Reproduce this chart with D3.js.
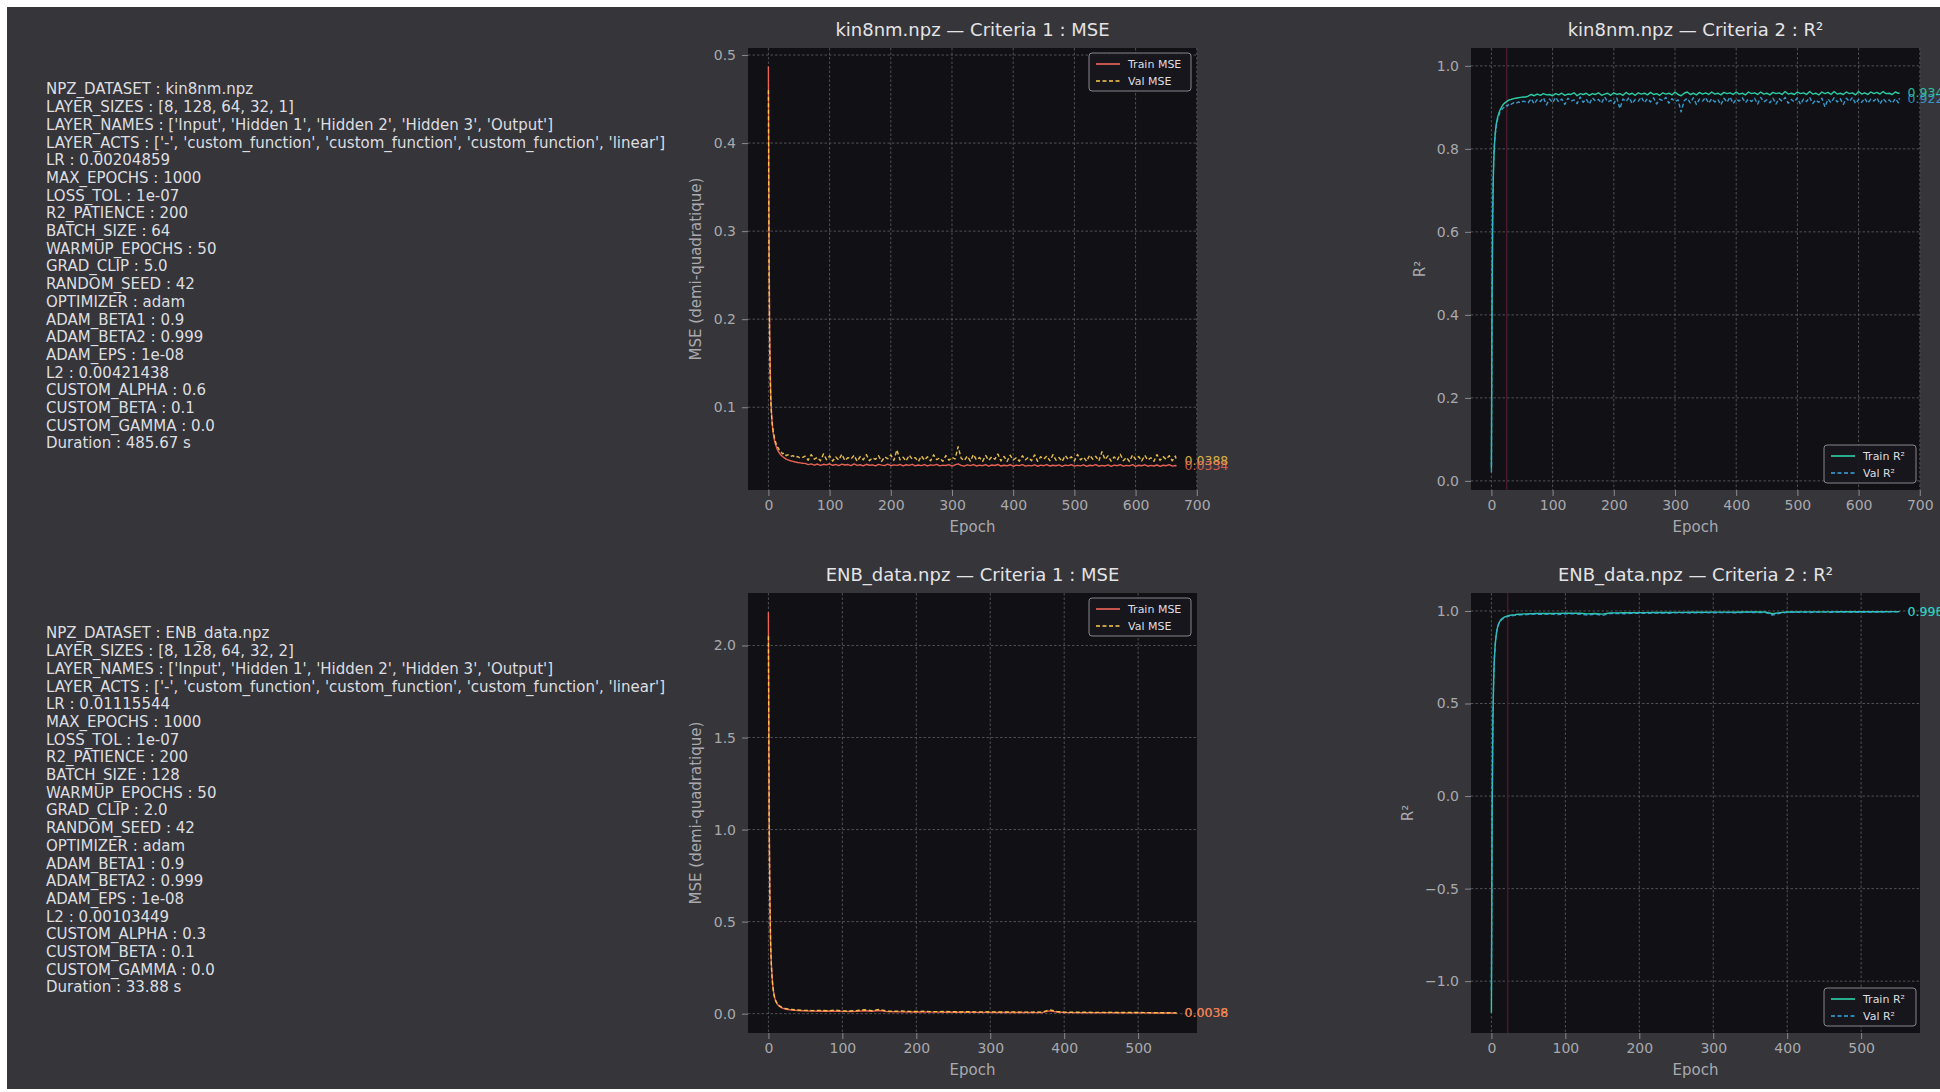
<!DOCTYPE html>
<html>
<head>
<meta charset="utf-8">
<script src="https://cdn.jsdelivr.net/npm/d3@7"></script>
<style>
  html, body { margin: 0; padding: 0; background: #ffffff; overflow: hidden; }
  text { font-family: 'DejaVu Sans', 'Noto Sans', sans-serif; }
</style>
</head>
<body>
<svg id="fig" width="1940" height="1092"></svg>
<script>
// ---------------------------------------------------------------------------
// Run configurations printed beside each training history
// ---------------------------------------------------------------------------
const kinConfig = [
  "NPZ_DATASET : kin8nm.npz",
  "LAYER_SIZES : [8, 128, 64, 32, 1]",
  "LAYER_NAMES : ['Input', 'Hidden 1', 'Hidden 2', 'Hidden 3', 'Output']",
  "LAYER_ACTS : ['-', 'custom_function', 'custom_function', 'custom_function', 'linear']",
  "LR : 0.00204859",
  "MAX_EPOCHS : 1000",
  "LOSS_TOL : 1e-07",
  "R2_PATIENCE : 200",
  "BATCH_SIZE : 64",
  "WARMUP_EPOCHS : 50",
  "GRAD_CLIP : 5.0",
  "RANDOM_SEED : 42",
  "OPTIMIZER : adam",
  "ADAM_BETA1 : 0.9",
  "ADAM_BETA2 : 0.999",
  "ADAM_EPS : 1e-08",
  "L2 : 0.00421438",
  "CUSTOM_ALPHA : 0.6",
  "CUSTOM_BETA : 0.1",
  "CUSTOM_GAMMA : 0.0",
  "Duration : 485.67 s"
];
const enbConfig = [
  "NPZ_DATASET : ENB_data.npz",
  "LAYER_SIZES : [8, 128, 64, 32, 2]",
  "LAYER_NAMES : ['Input', 'Hidden 1', 'Hidden 2', 'Hidden 3', 'Output']",
  "LAYER_ACTS : ['-', 'custom_function', 'custom_function', 'custom_function', 'linear']",
  "LR : 0.01115544",
  "MAX_EPOCHS : 1000",
  "LOSS_TOL : 1e-07",
  "R2_PATIENCE : 200",
  "BATCH_SIZE : 128",
  "WARMUP_EPOCHS : 50",
  "GRAD_CLIP : 2.0",
  "RANDOM_SEED : 42",
  "OPTIMIZER : adam",
  "ADAM_BETA1 : 0.9",
  "ADAM_BETA2 : 0.999",
  "ADAM_EPS : 1e-08",
  "L2 : 0.00103449",
  "CUSTOM_ALPHA : 0.3",
  "CUSTOM_BETA : 0.1",
  "CUSTOM_GAMMA : 0.0",
  "Duration : 33.88 s"
];

// ---------------------------------------------------------------------------
// kin8nm history: every epoch early on, then every 5th epoch
// ---------------------------------------------------------------------------
const kinEpochs = [0,1,2,3,4,5,6,7,8,9,10,12,14,16,18,20,23,26,29,32,36,40,44,48,52,56]
  .concat(d3.range(60, 666, 5), [667]);

const kinTrainMSE = [0.487,0.300,0.190,0.140,0.112,0.095,0.084,0.076,0.070,0.066,0.062,0.057,0.053,0.050,0.048,0.046,0.044,0.0425,0.041,0.0402,0.0392,0.0385,0.0378,0.0372,0.0368,0.0364,
  0.0362,0.0348,0.0357,0.0343,0.0355,0.0339,0.0352,0.0346,0.0358,0.0341,
  0.0350,0.0337,0.0354,0.0344,0.0349,0.0336,0.0356,0.0340,0.0347,0.0335,
  0.0352,0.0341,0.0346,0.0334,0.0351,0.0343,0.0338,0.0353,0.0336,0.0345,
  0.0340,0.0350,0.0333,0.0347,0.0339,0.0352,0.0335,0.0344,0.0337,0.0349,
  0.0333,0.0346,0.0340,0.0351,0.0334,0.0343,0.0338,0.0348,0.0332,0.0345,
  0.0356,0.0339,0.0331,0.0346,0.0337,0.0349,0.0333,0.0342,0.0336,0.0347,
  0.0331,0.0344,0.0338,0.0350,0.0332,0.0341,0.0335,0.0347,0.0330,0.0343,
  0.0337,0.0348,0.0331,0.0340,0.0334,0.0346,0.0330,0.0342,0.0336,0.0349,
  0.0332,0.0341,0.0335,0.0345,0.0329,0.0343,0.0337,0.0347,0.0331,0.0340,
  0.0334,0.0346,0.0329,0.0341,0.0336,0.0348,0.0330,0.0339,0.0333,0.0345,
  0.0328,0.0342,0.0336,0.0347,0.0331,0.0340,0.0334,0.0349,0.0329,0.0341,
  0.0335,0.0346,0.0330,0.0339,0.0333,0.0344,0.0328,0.0341,0.0336,0.0347,
  0.0331,0.0338,
  0.0334];

const kinValMSE = [0.460,0.260,0.170,0.130,0.105,0.092,0.082,0.078,0.071,0.069,0.064,0.060,0.055,0.054,0.051,0.050,0.047,0.048,0.045,0.046,0.044,0.045,0.043,0.044,0.042,0.043,
  0.0445,0.0398,0.0462,0.0410,0.0431,0.0392,0.0470,0.0405,0.0448,0.0389,
  0.0436,0.0401,0.0466,0.0395,0.0428,0.0412,0.0453,0.0386,0.0440,0.0403,
  0.0461,0.0393,0.0425,0.0408,0.0449,0.0384,0.0437,0.0415,0.0458,0.0396,
  0.0515,0.0402,0.0433,0.0389,0.0456,0.0410,0.0427,0.0383,0.0447,0.0399,
  0.0438,0.0391,0.0460,0.0405,0.0424,0.0386,0.0451,0.0398,0.0432,0.0412,
  0.0552,0.0420,0.0394,0.0445,0.0388,0.0463,0.0401,0.0429,0.0385,0.0452,
  0.0397,0.0436,0.0409,0.0468,0.0390,0.0441,0.0384,0.0455,0.0400,0.0426,
  0.0387,0.0449,0.0403,0.0431,0.0392,0.0459,0.0385,0.0438,0.0411,0.0446,
  0.0393,0.0461,0.0398,0.0428,0.0383,0.0452,0.0406,0.0437,0.0389,0.0464,
  0.0402,0.0433,0.0386,0.0457,0.0410,0.0442,0.0391,0.0495,0.0404,0.0448,
  0.0388,0.0436,0.0399,0.0466,0.0393,0.0430,0.0384,0.0458,0.0407,0.0441,
  0.0390,0.0453,0.0401,0.0427,0.0386,0.0462,0.0396,0.0439,0.0408,0.0450,
  0.0392,0.0446,
  0.0388];

const kinTrainR2 = [0.030,0.400,0.620,0.720,0.775,0.810,0.832,0.848,0.860,0.868,0.875,0.885,0.893,0.899,0.904,0.908,0.912,0.915,0.918,0.919,0.921,0.922,0.923,0.924,0.925,0.925,
  0.927,0.931,0.928,0.932,0.929,0.933,0.930,0.931,0.928,0.933,
  0.930,0.934,0.929,0.932,0.931,0.935,0.928,0.933,0.931,0.934,
  0.929,0.933,0.931,0.935,0.929,0.932,0.934,0.929,0.935,0.931,
  0.933,0.929,0.936,0.931,0.934,0.929,0.935,0.932,0.934,0.930,
  0.936,0.931,0.933,0.929,0.935,0.932,0.934,0.930,0.937,0.931,
  0.928,0.934,0.937,0.931,0.934,0.930,0.936,0.932,0.935,0.931,
  0.937,0.932,0.934,0.930,0.936,0.933,0.935,0.931,0.937,0.932,
  0.934,0.930,0.937,0.933,0.935,0.931,0.937,0.932,0.934,0.930,
  0.936,0.933,0.935,0.931,0.938,0.932,0.934,0.931,0.937,0.933,
  0.935,0.931,0.938,0.932,0.934,0.930,0.937,0.933,0.936,0.931,
  0.938,0.932,0.934,0.931,0.937,0.933,0.935,0.930,0.938,0.932,
  0.935,0.931,0.937,0.933,0.936,0.932,0.938,0.933,0.934,0.931,
  0.937,0.934,
  0.9345];

const kinValR2 = [0.020,0.450,0.650,0.740,0.790,0.815,0.835,0.842,0.857,0.861,0.871,0.879,0.889,0.891,0.897,0.899,0.905,0.903,0.909,0.907,0.911,0.909,0.913,0.911,0.915,0.913,
  0.911,0.921,0.908,0.919,0.914,0.923,0.906,0.920,0.911,0.924,
  0.913,0.920,0.907,0.922,0.915,0.918,0.909,0.925,0.912,0.920,
  0.908,0.923,0.915,0.919,0.910,0.925,0.913,0.917,0.909,0.922,
  0.897,0.920,0.914,0.924,0.909,0.919,0.915,0.925,0.911,0.921,
  0.913,0.923,0.908,0.920,0.916,0.924,0.910,0.921,0.914,0.918,
  0.889,0.916,0.922,0.911,0.923,0.907,0.920,0.915,0.924,0.910,
  0.921,0.913,0.919,0.906,0.922,0.912,0.925,0.909,0.920,0.915,
  0.923,0.911,0.920,0.914,0.922,0.908,0.924,0.913,0.918,0.911,
  0.922,0.908,0.921,0.915,0.924,0.910,0.919,0.913,0.923,0.907,
  0.920,0.914,0.924,0.909,0.918,0.912,0.922,0.901,0.920,0.911,
  0.923,0.913,0.921,0.907,0.922,0.914,0.924,0.909,0.919,0.912,
  0.922,0.910,0.920,0.915,0.923,0.908,0.921,0.913,0.918,0.910,
  0.921,0.911,
  0.922];

// ---------------------------------------------------------------------------
// ENB_data history: every epoch early on, then every 10th epoch
// ---------------------------------------------------------------------------
const enbEpochs = [0,1,2,3,4,5,6,7,8,9,10,12,14,16,18,20,23,26,29,32,36,40,44,48,52,56]
  .concat(d3.range(60, 551, 10), [552]);

const enbTrainMSE = [2.18,1.12,0.62,0.39,0.27,0.20,0.15,0.118,0.095,0.080,0.068,0.052,0.043,0.037,0.032,0.029,0.025,0.023,0.021,0.020,0.018,0.0175,0.016,0.0155,0.015,0.0145,
  0.0140,0.0135,0.0142,0.0128,0.0122,0.0118,0.0125,0.0160,0.0135,0.0172,0.0110,0.0102,0.0098,0.0094,0.0090,0.0088,0.0085,0.0082,0.0080,0.0078,
  0.0076,0.0074,0.0071,0.0069,0.0068,0.0066,0.0064,0.0070,0.0062,0.0060,0.0059,0.0058,0.0150,0.0088,0.0060,0.0055,0.0053,0.0052,0.0050,0.0049,
  0.0048,0.0046,0.0045,0.0044,0.0043,0.0042,0.0040,0.0039,0.0038,0.0037,0.0036];

const enbValMSE = [2.05,1.05,0.60,0.37,0.26,0.19,0.145,0.115,0.093,0.079,0.068,0.054,0.045,0.040,0.034,0.032,0.028,0.026,0.024,0.023,0.021,0.020,0.019,0.018,0.0175,0.017,
  0.0165,0.0180,0.0158,0.0190,0.0150,0.0145,0.0170,0.0210,0.0160,0.0230,0.0140,0.0132,0.0145,0.0125,0.0120,0.0130,0.0112,0.0108,0.0118,0.0104,
  0.0100,0.0110,0.0096,0.0094,0.0102,0.0090,0.0088,0.0098,0.0085,0.0083,0.0090,0.0081,0.0210,0.0120,0.0082,0.0076,0.0074,0.0080,0.0071,0.0069,
  0.0074,0.0066,0.0064,0.0068,0.0061,0.0058,0.0056,0.0050,0.0046,0.0043,0.0038];

const enbTrainR2 = [-1.17,-0.10,0.40,0.62,0.74,0.81,0.855,0.885,0.907,0.921,0.933,0.948,0.957,0.963,0.968,0.971,0.975,0.977,0.979,0.980,0.982,0.9825,0.984,0.9845,0.985,0.9855,
  0.986,0.9865,0.986,0.987,0.9875,0.988,0.9875,0.984,0.9865,0.983,0.989,0.9895,0.990,0.9905,0.991,0.991,0.9915,0.992,0.992,0.9925,
  0.9925,0.993,0.993,0.9932,0.9935,0.9935,0.9938,0.9932,0.994,0.9942,0.9943,0.9944,0.985,0.991,0.9942,0.9946,0.9948,0.9949,0.995,0.9951,
  0.9952,0.9954,0.9955,0.9956,0.9957,0.9958,0.996,0.9961,0.9962,0.9963,0.9964];

const enbValR2 = [-1.05,-0.02,0.42,0.63,0.745,0.81,0.855,0.884,0.906,0.920,0.931,0.945,0.954,0.959,0.965,0.968,0.971,0.973,0.975,0.976,0.978,0.979,0.980,0.981,0.982,0.982,
  0.983,0.981,0.9835,0.980,0.9845,0.985,0.982,0.978,0.983,0.976,0.986,0.9865,0.985,0.9875,0.988,0.987,0.989,0.9892,0.988,0.990,
  0.990,0.989,0.9905,0.991,0.990,0.9912,0.9915,0.990,0.992,0.9922,0.991,0.9925,0.978,0.987,0.9925,0.993,0.9932,0.992,0.9935,0.9937,
  0.993,0.994,0.9942,0.993,0.9944,0.9946,0.9942,0.995,0.9952,0.9954,0.9956];

// Epoch marked by a thin vertical rule on each R² panel
const r2MarkEpochs = [25, 22];

// Axis ticks
const kinEpochTicks = [0,100,200,300,400,500,600,700];
const enbEpochTicks = [0,100,200,300,400,500];
const kinMSETicks = [0.1,0.2,0.3,0.4,0.5];
const kinR2Ticks = [0.0,0.2,0.4,0.6,0.8,1.0];
const enbMSETicks = [0.0,0.5,1.0,1.5,2.0];
const enbR2Ticks = [-1.0,-0.5,0.0,0.5,1.0];

// ---------------------------------------------------------------------------
// Styling
// ---------------------------------------------------------------------------
const C = {
  page: '#35353a',
  plot: '#111115',
  grid: '#606066',
  tick: '#8a8a90',
  tickText: '#a9a9ae',
  title: '#e4e4e6',
  text: '#dedee0',
  trainMSE: '#ff6a5c',
  valMSE: '#ffcf4a',
  trainR2: '#2ee0b4',
  valR2: '#3aa8e0',
  mark: '#48192a'
};

const svg = d3.select('#fig');
svg.append('rect')
  .attr('x', 7).attr('y', 7).attr('width', 1933).attr('height', 1082)
  .attr('fill', C.page);

// ---------------------------------------------------------------------------
// Configuration text blocks
// ---------------------------------------------------------------------------
function drawConfig(lines, x, y0, step) {
  const g = svg.append('g');
  g.selectAll('text').data(lines).join('text')
    .attr('x', x)
    .attr('y', (d, i) => y0 + i * step)
    .attr('dy', '0.36em')
    .attr('font-size', 15)
    .attr('fill', C.text)
    .text(d => d);
}
drawConfig(kinConfig, 46, 89, 17.7);
drawConfig(enbConfig, 46, 633, 17.7);

// ---------------------------------------------------------------------------
// One axes panel
// ---------------------------------------------------------------------------
const minus = s => s.replace('-', '\u2212');
const fmtY = v => minus(d3.format('.1f')(v));

function drawPanel(p) {
  const x = d3.scaleLinear().domain(p.xDomain).range([p.box[0], p.box[1]]);
  const y = d3.scaleLinear().domain(p.yDomain).range([p.box[3], p.box[2]]);
  const g = svg.append('g');

  g.append('rect')
    .attr('x', p.box[0]).attr('y', p.box[2])
    .attr('width', p.box[1] - p.box[0]).attr('height', p.box[3] - p.box[2])
    .attr('fill', C.plot);

  // grid
  g.append('g').selectAll('line').data(p.xTicks).join('line')
    .attr('x1', d => x(d)).attr('x2', d => x(d))
    .attr('y1', p.box[2]).attr('y2', p.box[3])
    .attr('stroke', C.grid).attr('stroke-width', 0.8).attr('stroke-dasharray', '2.5,2');
  g.append('g').selectAll('line').data(p.yTicks).join('line')
    .attr('x1', p.box[0]).attr('x2', p.box[1])
    .attr('y1', d => y(d)).attr('y2', d => y(d))
    .attr('stroke', C.grid).attr('stroke-width', 0.8).attr('stroke-dasharray', '2.5,2');

  // axes
  const xAxis = d3.axisBottom(x).tickValues(p.xTicks).tickFormat(d3.format('d'))
    .tickSize(6).tickPadding(4);
  const yAxis = d3.axisLeft(y).tickValues(p.yTicks).tickFormat(fmtY)
    .tickSize(6).tickPadding(6);
  const gx = g.append('g').attr('transform', `translate(0,${p.box[3]})`).call(xAxis);
  const gy = g.append('g').attr('transform', `translate(${p.box[0]},0)`).call(yAxis);
  [gx, gy].forEach(a => {
    a.select('.domain').remove();
    a.selectAll('line').attr('stroke', C.tick);
    a.selectAll('text').attr('fill', C.tickText).attr('font-size', 14)
      .attr('font-family', "'DejaVu Sans', sans-serif");
  });

  // vertical rule
  if (p.mark != null) {
    g.append('line')
      .attr('x1', x(p.mark)).attr('x2', x(p.mark))
      .attr('y1', p.box[2]).attr('y2', p.box[3])
      .attr('stroke', C.mark).attr('stroke-width', 1.5);
  }

  // series
  const line = d3.line().x(d => x(d[0])).y(d => y(d[1]));
  p.series.forEach(s => {
    const pts = d3.zip(s.epochs, s.values);
    g.append('path').datum(pts)
      .attr('d', line)
      .attr('fill', 'none')
      .attr('stroke', s.color)
      .attr('stroke-width', 1.4)
      .attr('stroke-linejoin', 'round')
      .attr('stroke-dasharray', s.dash || null)
      .attr('opacity', 0.9);
  });

  // final values (validation first, training on top)
  p.series.slice().reverse().forEach(s => {
    const n = Math.min(s.epochs.length, s.values.length) - 1;
    g.append('text')
      .attr('x', x(s.epochs[n]) + 8)
      .attr('y', y(s.values[n]))
      .attr('dy', '0.35em')
      .attr('font-size', 12.5)
      .attr('fill', s.color)
      .attr('opacity', 0.8)
      .text(d3.format('.4f')(s.values[n]));
  });

  // title and labels
  g.append('text')
    .attr('x', (p.box[0] + p.box[1]) / 2).attr('y', p.box[2] - 18)
    .attr('dy', '0.35em').attr('text-anchor', 'middle')
    .attr('font-size', 18).attr('fill', C.title)
    .text(p.title);
  g.append('text')
    .attr('x', (p.box[0] + p.box[1]) / 2).attr('y', p.box[3] + 37)
    .attr('dy', '0.35em').attr('text-anchor', 'middle')
    .attr('font-size', 15).attr('fill', C.tickText)
    .text('Epoch');
  g.append('text')
    .attr('transform', `translate(${p.yLabelX},${(p.box[2] + p.box[3]) / 2}) rotate(-90)`)
    .attr('dy', '0.35em').attr('text-anchor', 'middle')
    .attr('font-size', 15).attr('fill', C.tickText)
    .text(p.yLabel);

  // legend
  const lw = p.legendWidth, lh = 38;
  const lx = p.box[1] - lw - (p.legend === 'top' ? 6 : 4);
  const ly = p.legend === 'top' ? p.box[2] + 5 : p.box[3] - lh - 7;
  const lg = g.append('g').attr('transform', `translate(${lx},${ly})`);
  lg.append('rect').attr('width', lw).attr('height', lh).attr('rx', 3)
    .attr('fill', '#17171d').attr('fill-opacity', 0.9)
    .attr('stroke', '#85858c').attr('stroke-width', 1);
  p.series.forEach((s, i) => {
    const yy = 11 + i * 17;
    lg.append('line').attr('x1', 7).attr('x2', 31).attr('y1', yy).attr('y2', yy)
      .attr('stroke', s.color).attr('stroke-width', 1.5)
      .attr('stroke-dasharray', s.dash || null);
    lg.append('text').attr('x', 39).attr('y', yy).attr('dy', '0.35em')
      .attr('font-size', 11).attr('fill', C.text).text(s.name);
  });
}

drawPanel({
  box: [748, 1197, 48, 490],
  xDomain: [-33.35, 700.35], yDomain: [0.006, 0.508],
  xTicks: kinEpochTicks, yTicks: kinMSETicks,
  title: 'kin8nm.npz \u2014 Criteria 1 : MSE',
  yLabel: 'MSE (demi-quadratique)', yLabelX: 696,
  legend: 'top', legendWidth: 102,
  series: [
    { name: 'Train MSE', epochs: kinEpochs, values: kinTrainMSE, color: C.trainMSE },
    { name: 'Val MSE', epochs: kinEpochs, values: kinValMSE, color: C.valMSE, dash: '4,2.5' }
  ]
});

drawPanel({
  box: [1471, 1920, 48, 490],
  xDomain: [-33.35, 700.35], yDomain: [-0.022, 1.043],
  xTicks: kinEpochTicks, yTicks: kinR2Ticks,
  title: 'kin8nm.npz \u2014 Criteria 2 : R\u00b2',
  yLabel: 'R\u00b2', yLabelX: 1420,
  legend: 'bottom', legendWidth: 92, mark: r2MarkEpochs[0],
  series: [
    { name: 'Train R\u00b2', epochs: kinEpochs, values: kinTrainR2, color: C.trainR2 },
    { name: 'Val R\u00b2', epochs: kinEpochs, values: kinValR2, color: C.valR2, dash: '4,2.5' }
  ]
});

drawPanel({
  box: [748, 1197, 593, 1033],
  xDomain: [-27.6, 579.6], yDomain: [-0.105, 2.285],
  xTicks: enbEpochTicks, yTicks: enbMSETicks,
  title: 'ENB_data.npz \u2014 Criteria 1 : MSE',
  yLabel: 'MSE (demi-quadratique)', yLabelX: 696,
  legend: 'top', legendWidth: 102,
  series: [
    { name: 'Train MSE', epochs: enbEpochs, values: enbTrainMSE, color: C.trainMSE },
    { name: 'Val MSE', epochs: enbEpochs, values: enbValMSE, color: C.valMSE, dash: '4,2.5' }
  ]
});

drawPanel({
  box: [1471, 1920, 593, 1033],
  xDomain: [-27.6, 579.6], yDomain: [-1.28, 1.097],
  xTicks: enbEpochTicks, yTicks: enbR2Ticks,
  title: 'ENB_data.npz \u2014 Criteria 2 : R\u00b2',
  yLabel: 'R\u00b2', yLabelX: 1408,
  legend: 'bottom', legendWidth: 92, mark: r2MarkEpochs[1],
  series: [
    { name: 'Train R\u00b2', epochs: enbEpochs, values: enbTrainR2, color: C.trainR2 },
    { name: 'Val R\u00b2', epochs: enbEpochs, values: enbValR2, color: C.valR2, dash: '4,2.5' }
  ]
});
</script>
</body>
</html>
